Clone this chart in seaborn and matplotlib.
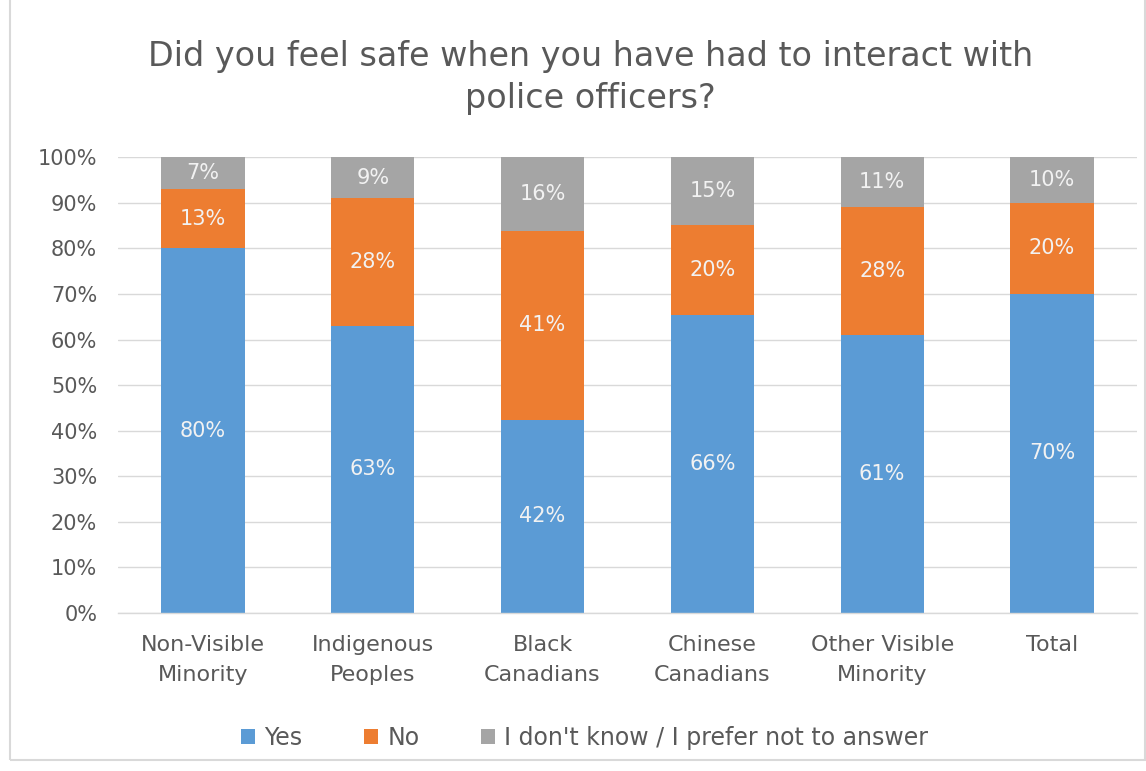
import numpy as np
import pandas as pd
import matplotlib
matplotlib.use("Agg")
import matplotlib.pyplot as plt
import seaborn as sns
from matplotlib.patches import Rectangle, Patch

categories = ["Non-Visible\nMinority", "Indigenous\nPeoples", "Black\nCanadians",
              "Chinese\nCanadians", "Other Visible\nMinority", "Total"]
yes_vals = [80, 63, 42, 66, 61, 70]
no_vals = [13, 28, 41, 20, 28, 20]
dk_vals = [7, 9, 16, 15, 11, 10]
series_names = ["Yes", "No", "I don't know / I prefer not to answer"]
colors = ["#5B9BD5", "#ED7D31", "#A5A5A5"]
title = "Did you feel safe when you have had to interact with\npolice officers?"

sns.set_theme(style="white")
plt.rcParams["font.family"] = ["DejaVu Sans"]
text_color = "#595959"

df = pd.DataFrame({"cat": categories, "Yes": yes_vals, "No": no_vals, "DK": dk_vals})
tot = df[["Yes", "No", "DK"]].sum(axis=1)
df["yes_p"] = df["Yes"] / tot * 100
df["no_p"] = df["No"] / tot * 100
df["dk_p"] = df["DK"] / tot * 100
df["c1"] = df["yes_p"]
df["c2"] = df["yes_p"] + df["no_p"]
df["c3"] = df["c2"] + df["dk_p"]

fig = plt.figure(figsize=(11.46, 7.71), dpi=100)
ax = fig.add_axes([0.103, 0.205, 0.889, 0.591])

sns.barplot(data=df, x="cat", y="c3", color=colors[2], width=0.49, ax=ax, saturation=1)
sns.barplot(data=df, x="cat", y="c2", color=colors[1], width=0.49, ax=ax, saturation=1)
sns.barplot(data=df, x="cat", y="c1", color=colors[0], width=0.49, ax=ax, saturation=1)
for p in ax.patches:
    p.set_linewidth(0)

lab_kw = dict(ha="center", va="center", color="#F2F2F2", fontsize=15)
for i, row in df.iterrows():
    ax.text(i, row["c1"] / 2, f"{row['Yes']}%", **lab_kw)
    ax.text(i, (row["c1"] + row["c2"]) / 2, f"{row['No']}%", **lab_kw)
    ax.text(i, (row["c2"] + row["c3"]) / 2, f"{row['DK']}%", **lab_kw)

ax.set_ylim(0, 100)
ax.set_xlim(-0.5, 5.5)
ax.set_yticks(np.arange(0, 101, 10))
ax.set_yticklabels([f"{v}%" for v in range(0, 101, 10)])
ax.yaxis.grid(True, color="#D9D9D9", linewidth=1)
ax.set_axisbelow(True)
for s in ["top", "right", "left"]:
    ax.spines[s].set_visible(False)
ax.spines["bottom"].set_color("#D9D9D9")
ax.spines["bottom"].set_linewidth(1)
ax.set_xlabel("")
ax.set_ylabel("")
ax.tick_params(axis="y", length=0, labelcolor=text_color, labelsize=15, pad=15)
ax.tick_params(axis="x", length=0, labelcolor=text_color, labelsize=16, pad=16)
for lbl in ax.get_xticklabels():
    lbl.set_linespacing(1.6)

fig.text(0.515, 0.9, title, ha="center", va="center", fontsize=24,
         color=text_color, linespacing=1.35)

handles = [Patch(facecolor=c, edgecolor="none") for c in colors]
fig.legend(handles, series_names, loc="center", bbox_to_anchor=(0.51, 0.043), ncol=3,
           frameon=False, fontsize=17, labelcolor=text_color, handlelength=0.6,
           handleheight=0.6, handletextpad=0.4, columnspacing=2.6)

fig.patches.append(Rectangle((0.009, 0.014), 0.99, 0.99, transform=fig.transFigure,
                             fill=False, edgecolor="#D9D9D9", linewidth=1.5))

fig.savefig("out.png", dpi=100)
